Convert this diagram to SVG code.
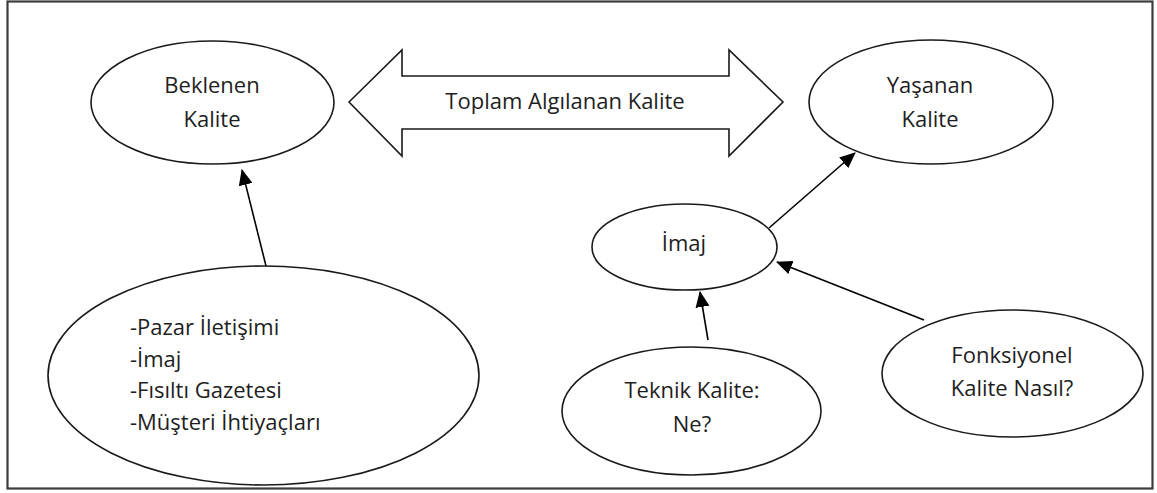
<svg xmlns="http://www.w3.org/2000/svg" width="1157" height="493" viewBox="0 0 1157 493">
<style>
.n{fill:#fff;stroke:#1a1a1a;stroke-width:1.6}
.t{font-family:"Open Sans","DejaVu Sans",sans-serif;font-size:22px;fill:#1e1e1e;text-anchor:middle}
.l{text-anchor:start}
.c{stroke:#000;stroke-width:1.6;fill:none;marker-end:url(#ah)}
</style>
<defs>
<marker id="ah" markerUnits="userSpaceOnUse" markerWidth="16" markerHeight="14" viewBox="0 0 16 14" refX="15" refY="7" orient="auto">
<path d="M0,0 L16,7 L0,14 Z" fill="#000"/>
</marker>
</defs>
<rect x="0" y="0" width="1157" height="493" fill="#fff"/>
<rect id="frame" x="7.5" y="1.5" width="1145" height="487" fill="none" stroke="#3c3c3c" stroke-width="2.2"/>
<g id="beklenen">
<ellipse class="n" cx="212.5" cy="102.5" rx="121.5" ry="61.5"/>
<text class="t" x="212" y="93">Beklenen</text>
<text class="t" x="212" y="127">Kalite</text>
</g>
<g id="toplam">
<path class="n" d="M349,102 L402,50 L402,76 L729,76 L729,50 L783,102 L729,156 L729,129 L402,129 L402,156 Z"/>
<text class="t" x="565" y="109">Toplam Algılanan Kalite</text>
</g>
<g id="yasanan">
<ellipse class="n" cx="931" cy="102" rx="122" ry="62"/>
<text class="t" x="930" y="93">Yaşanan</text>
<text class="t" x="930" y="127">Kalite</text>
</g>
<g id="imaj">
<ellipse class="n" cx="684.5" cy="247" rx="92.5" ry="43"/>
<text class="t" x="684" y="251">İmaj</text>
</g>
<g id="teknik">
<ellipse class="n" cx="691.5" cy="411" rx="129.5" ry="64"/>
<text class="t" x="692" y="398">Teknik Kalite:</text>
<text class="t" x="692" y="432">Ne?</text>
</g>
<g id="fonksiyonel">
<ellipse class="n" cx="1012.5" cy="373.5" rx="130.5" ry="63.5"/>
<text class="t" x="1012" y="363">Fonksiyonel</text>
<text class="t" x="1012" y="396">Kalite Nasıl?</text>
</g>
<g id="beklenti">
<ellipse class="n" cx="263.5" cy="375.5" rx="215.5" ry="109.5"/>
<text class="t l" x="130" y="335">-Pazar İletişimi</text>
<text class="t l" x="130" y="367">-İmaj</text>
<text class="t l" x="130" y="398">-Fısıltı Gazetesi</text>
<text class="t l" x="130" y="430">-Müşteri İhtiyaçları</text>
</g>
<g id="connectors">
<line class="c" x1="266" y1="266" x2="242" y2="170"/>
<line class="c" x1="769" y1="228" x2="855" y2="153"/>
<line class="c" x1="708" y1="340" x2="700" y2="292"/>
<line class="c" x1="924" y1="320" x2="777" y2="262"/>
</g>
</svg>
